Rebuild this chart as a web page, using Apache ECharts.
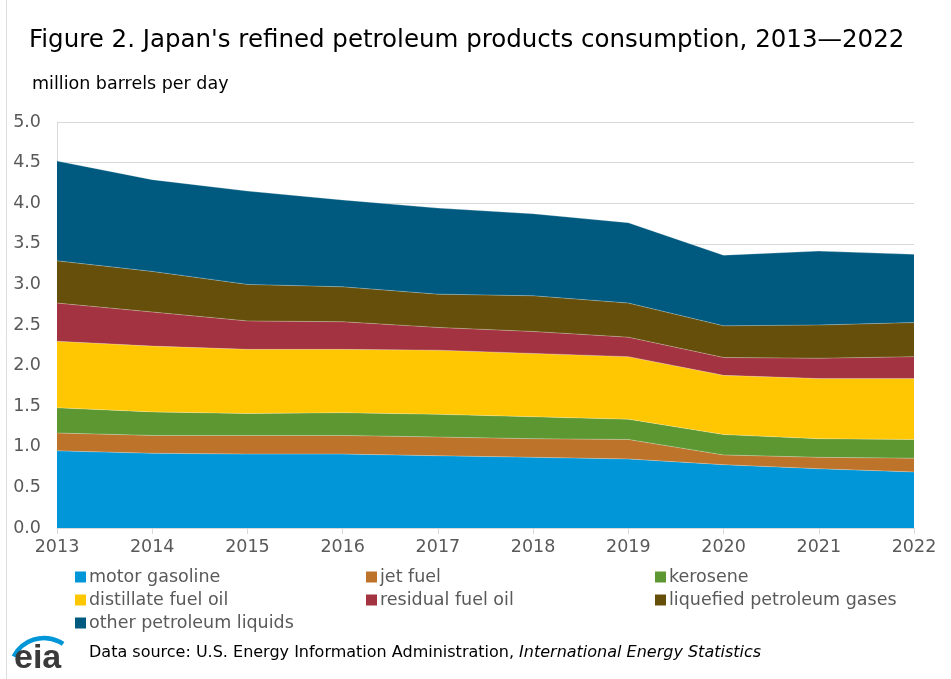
<!DOCTYPE html>
<html>
<head>
<meta charset="utf-8">
<script src="https://cdn.jsdelivr.net/npm/echarts@6/dist/echarts.min.js"></script>
<style>
  html, body { margin: 0; padding: 0; background: #fff; }
  #chart { width: 951px; height: 679px; }
</style>
</head>
<body>
<div id="chart"></div>
<script>
// years on the x axis
var years = ['2013', '2014', '2015', '2016', '2017', '2018', '2019', '2020', '2021', '2022']
// million barrels per day
var motorGasoline = [0.95, 0.92, 0.91, 0.91, 0.89, 0.87, 0.85, 0.78, 0.73, 0.69]
var jetFuel = [0.22, 0.22, 0.23, 0.23, 0.23, 0.23, 0.24, 0.12, 0.14, 0.17]
var kerosene = [0.31, 0.29, 0.27, 0.28, 0.28, 0.27, 0.25, 0.25, 0.23, 0.23]
var distillate = [0.82, 0.81, 0.79, 0.78, 0.79, 0.78, 0.77, 0.73, 0.74, 0.75]
var residual = [0.47, 0.42, 0.35, 0.34, 0.28, 0.27, 0.24, 0.22, 0.25, 0.27]
var lpg = [0.52, 0.50, 0.45, 0.43, 0.41, 0.44, 0.42, 0.39, 0.41, 0.42]
var otherLiquids = [1.23, 1.13, 1.15, 1.07, 1.06, 1.01, 0.99, 0.87, 0.91, 0.84]

var seriesDefs = [
  { name: 'motor gasoline', data: motorGasoline, color: '#0096d7' },
  { name: 'jet fuel', data: jetFuel, color: '#bd732a' },
  { name: 'kerosene', data: kerosene, color: '#5d9732' },
  { name: 'distillate fuel oil', data: distillate, color: '#ffc702' },
  { name: 'residual fuel oil', data: residual, color: '#a33340' },
  { name: 'liquefied petroleum gases', data: lpg, color: '#654f0a' },
  { name: 'other petroleum liquids', data: otherLiquids, color: '#005a7f' }
]

var font = 'DejaVu Sans, sans-serif'
var chart = echarts.init(document.getElementById('chart'))

// 图例分三列
function legendCol(left, names) {
  return {
    left: left,
    top: 567,
    padding: 0,
    orient: 'vertical',
    itemWidth: 11,
    itemHeight: 11,
    itemGap: 3,
    icon: 'rect',
    selectedMode: false,
    data: names,
    textStyle: { fontFamily: font, fontSize: 17.5, color: '#595959', lineHeight: 20, padding: [0, 0, 0, -2] }
  }
}

var option = {
  animation: false,
  title: [
    {
      text: "Figure 2. Japan's refined petroleum products consumption, 2013\u20142022",
      left: 29,
      top: 28,
      padding: 0,
      textStyle: { fontFamily: font, fontSize: 24.5, fontWeight: 'normal', color: '#000' }
    },
    {
      text: 'million barrels per day',
      left: 32,
      top: 75,
      padding: 0,
      textStyle: { fontFamily: font, fontSize: 17.5, fontWeight: 'normal', color: '#000' }
    }
  ],
  legend: [
    legendCol(75, ['motor gasoline', 'distillate fuel oil', 'other petroleum liquids']),
    legendCol(366, ['jet fuel', 'residual fuel oil']),
    legendCol(655, ['kerosene', 'liquefied petroleum gases'])
  ],
  grid: { left: 57, right: 37, top: 122, bottom: 151, containLabel: false },
  xAxis: {
    type: 'category',
    data: years,
    boundaryGap: false,
    axisLine: { lineStyle: { color: '#d9d9d9', width: 1 } },
    axisTick: { show: true, length: 6, lineStyle: { color: '#d9d9d9' } },
    axisLabel: { fontFamily: font, fontSize: 17.5, color: '#595959', margin: 10 }
  },
  yAxis: {
    type: 'value',
    min: 0,
    max: 5,
    interval: 0.5,
    axisLine: { show: true, lineStyle: { color: '#d9d9d9' } },
    axisTick: { show: false },
    splitLine: { lineStyle: { color: '#d9d9d9', width: 1 } },
    axisLabel: {
      fontFamily: font, fontSize: 17.5, color: '#595959', margin: 16,
      formatter: function (v) { return v.toFixed(1) }
    }
  },
  series: seriesDefs.map(function (s) {
    return {
      name: s.name,
      type: 'line',
      stack: 'total',
      data: s.data,
      symbol: 'none',
      lineStyle: { width: 0.6, color: 'rgba(255,255,255,0.45)' },
      areaStyle: { color: s.color, opacity: 1 },
      itemStyle: { color: s.color },
      emphasis: { disabled: true }
    }
  }),
  graphic: [
    {
      type: 'line',
      shape: { x1: 6.5, y1: 0, x2: 6.5, y2: 679 },
      style: { stroke: '#dcdcdc', lineWidth: 1 }
    },
    {
      type: 'arc',
      shape: { cx: 44, cy: 672, r: 34, startAngle: Math.PI * 1.15, endAngle: Math.PI * 1.69 },
      style: { stroke: '#0096d7', lineWidth: 4.5, fill: null }
    },
    {
      type: 'text',
      left: 14,
      top: 642,
      style: { text: 'eia', font: 'bold 34px Liberation Sans, Arial, sans-serif', fill: '#3a3a3a' }
    },
    {
      type: 'text',
      left: 89,
      top: 645,
      style: {
        text: '{n|Data source: U.S. Energy Information Administration, }{i|International Energy Statistics}',
        rich: {
          n: { fontFamily: font, fontSize: 16, color: '#000' },
          i: { fontFamily: font, fontSize: 16, fontStyle: 'italic', color: '#000' }
        }
      }
    }
  ]
}
chart.setOption(option, true)
</script>
</body>
</html>
